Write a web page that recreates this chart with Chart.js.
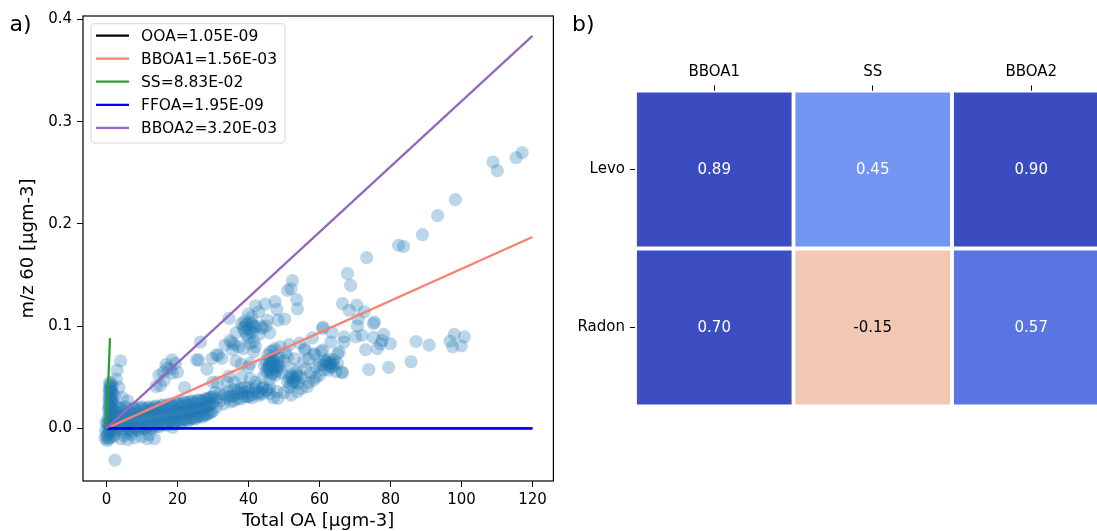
<!DOCTYPE html>
<html>
<head>
<meta charset="utf-8">
<script src="https://cdn.jsdelivr.net/npm/chart.js@4.4.0/dist/chart.umd.min.js"></script>
<style>
  html,body{margin:0;padding:0;background:#fff;overflow:hidden}
  #wrap{position:relative;width:1097px;height:531px;overflow:hidden}
  #scatterChart{position:absolute;left:0;top:0}
  #corrChart{position:absolute;left:560px;top:0}
</style>
</head>
<body>
<div id="wrap">
  <canvas id="scatterChart" width="560" height="531"></canvas>
  <canvas id="corrChart" width="560" height="531"></canvas>
</div>
<script>
/* ---- panel a data ---- */
const xTicks = [0, 20, 40, 60, 80, 100, 120];
const yTicks = [0.0, 0.1, 0.2, 0.3, 0.4];

const fitNames  = ['OOA', 'BBOA1', 'SS', 'FFOA', 'BBOA2'];
const fitSlopes = ['1.05E-09', '1.56E-03', '8.83E-02', '1.95E-09', '3.20E-03'];
const fitEndX   = [120, 120, 1.0, 120, 120];

// [Total OA, m/z 60]
const scatterPts = [
  // column at the origin
  [0.8,0.044],[1.3,0.045],[1.0,0.040],[1.6,0.041],[0.7,0.036],[1.2,0.037],[1.7,0.035],[0.9,0.032],[1.4,0.031],
  [0.6,0.028],[1.1,0.027],[1.6,0.028],[0.8,0.023],[1.3,0.022],[1.8,0.024],[0.6,0.018],[1.1,0.017],[1.5,0.019],
  [0.9,0.013],[1.4,0.012],[0.5,0.010],[1.0,0.008],[1.7,0.009],[0.3,0.004],[0.8,0.003],[1.3,0.002],[2.0,0.004],
  [-0.3,-0.002],[0.2,-0.006],[0.7,-0.004],[1.5,-0.003],[-0.4,-0.010],[0.3,-0.012],[1.0,-0.009],[2.2,-0.006],
  [-0.1,0.006],[2.5,0.001],[2.3,0.032],[2.8,0.048],[3.0,0.057],[4.0,0.066],
  [1.2,0.042],[0.9,0.038],[1.5,0.036],[1.0,0.030],[1.3,0.026],[0.7,0.021],[1.2,0.020],[1.0,0.015],[1.6,0.014],
  [0.6,0.006],[1.2,0.005],[0.4,-0.002],[1.1,-0.001],[1.8,-0.001],[0.0,-0.008],[0.6,-0.010],[2.5,0.010],
  [2.2,0.016],[2.7,0.022],
  // low band
  [3,-0.002],[3,0.007],[3,0.016],[4,0.003],[4,0.012],[4,0.020],[5,-0.004],[5,0.005],[5,0.014],
  [6,0.000],[6,0.009],[6,0.019],[7,-0.003],[7,0.006],[7,0.015],[8,0.001],[8,0.011],[8,0.020],
  [9,-0.002],[9,0.007],[9,0.016],[10,0.002],[10,0.012],[10,0.021],[11,-0.001],[11,0.008],[11,0.017],
  [12,0.003],[12,0.013],[12,0.021],[13,0.000],[13,0.009],[13,0.018],[14,0.004],[14,0.014],[14,0.022],
  [15,0.002],[15,0.010],[15,0.019],[16,0.005],[16,0.015],[16,0.023],[17,0.003],[17,0.011],[17,0.020],
  [18,0.007],[18,0.016],[18,0.024],[19,0.004],[19,0.012],[19,0.021],[20,0.008],[20,0.017],[20,0.025],
  [21,0.006],[21,0.014],[21,0.022],[22,0.009],[22,0.018],[22,0.026],[23,0.007],[23,0.015],[23,0.023],
  [24,0.010],[24,0.019],[24,0.027],[25,0.009],[25,0.016],[25,0.024],[26,0.012],[26,0.020],[26,0.028],
  [27,0.011],[27,0.018],[27,0.026],[28,0.013],[28,0.021],[28,0.029],[29,0.015],[29,0.023],[29,0.030],
  [30,0.017],[30,0.025],[30,0.031],
  [3.5,0.002],[3.5,0.011],[3.5,0.019],[4.5,-0.001],[4.5,0.008],[4.5,0.017],[5.5,0.003],[5.5,0.012],[5.5,0.021],
  [6.5,-0.001],[6.5,0.007],[6.5,0.016],[7.5,0.002],[7.5,0.010],[7.5,0.019],[8.5,-0.001],[8.5,0.009],[8.5,0.018],
  [9.5,0.001],[9.5,0.010],[9.5,0.020],[10.5,0.000],[10.5,0.010],[10.5,0.019],[11.5,0.002],[11.5,0.011],[11.5,0.020],
  [12.5,0.001],[12.5,0.011],[12.5,0.019],[13.5,0.003],[13.5,0.012],[13.5,0.021],[14.5,0.002],[14.5,0.012],[14.5,0.020],
  [15.5,0.004],[15.5,0.013],[15.5,0.022],[16.5,0.004],[16.5,0.013],[16.5,0.021],[17.5,0.005],[17.5,0.014],[17.5,0.023],
  [18.5,0.006],[18.5,0.014],[18.5,0.022],[19.5,0.006],[19.5,0.015],[19.5,0.024],[20.5,0.007],[20.5,0.016],[20.5,0.024],
  [21.5,0.008],[21.5,0.016],[21.5,0.025],[22.5,0.008],[22.5,0.017],[22.5,0.025],[23.5,0.009],[23.5,0.017],[23.5,0.026],
  [24.5,0.010],[24.5,0.018],[24.5,0.026],[25.5,0.011],[25.5,0.019],[25.5,0.027],[26.5,0.012],[26.5,0.019],[26.5,0.027],
  [27.5,0.013],[27.5,0.020],[27.5,0.028],[28.5,0.014],[28.5,0.022],[28.5,0.029],[29.5,0.016],[29.5,0.024],[29.5,0.030],
  [31,0.021],[32,0.027],[33,0.024],[34,0.030],[35,0.026],[36,0.032],[37,0.029],[38,0.034],[39,0.031],
  [40,0.036],[41,0.033],[42,0.038],[43,0.035],[44,0.040],[45,0.037],[46,0.034],[47,0.030],
  [31,0.029],[33,0.033],[35,0.031],[37,0.035],[39,0.036],[41,0.030],[43,0.032],
  [32,0.034],[34,0.036],[36,0.038],[38,0.039],[40,0.040],[42,0.041],[30.5,0.035],[44,0.034],[46,0.040],
  [48,0.036],[36,0.027],[38,0.029],[40,0.031],
  // below the band
  [2,-0.008],[4,-0.010],[6,-0.011],[8,-0.009],[10,-0.008],[11.5,-0.010],[13.5,-0.010],[12,-0.006],
  [18.7,0.001],[2.4,-0.031],[5,-0.007],[7,-0.006],
  // above the band
  [3.5,0.040],[4.5,0.030],[6,0.027],[14,0.041],[14.8,0.052],[16.2,0.047],[17.1,0.059],[18.5,0.054],
  [19.4,0.0635],[20,0.055],[18,0.058],[16.8,0.0626],[18.5,0.067],[15.2,0.042],[16,0.055],[22,0.040],
  [25.4,0.067],[26.5,0.0845],[26,0.0668],[29.8,0.0685],[28.3,0.058],[30,0.045],[31.2,0.045],[34.5,0.051],
  [36,0.045],[38,0.050],[40.5,0.0487],[42,0.045],[39,0.040],[34,0.045],
  // upper middle cluster
  [34.5,0.1077],[36.5,0.0935],[38,0.1024],[39,0.100],[40,0.1117],[41,0.109],[42,0.120],[42.9,0.114],
  [44.7,0.1215],[45.3,0.106],[47.5,0.124],[48,0.1165],[48.3,0.106],[50.2,0.107],[51,0.135],[52,0.1365],
  [52.4,0.1445],[53.6,0.126],[53.8,0.117],[38.5,0.098],[40.5,0.096],[42,0.099],[44,0.098],[46,0.0935],
  [43.5,0.100],[40,0.0885],[41.5,0.085],[42,0.080],[41.5,0.075],[40.5,0.083],[37.3,0.080],[38.5,0.078],
  [36,0.082],[35.3,0.084],[33.4,0.0815],[34.8,0.0858],[35.5,0.077],[31.5,0.0715],[31,0.072],[32.5,0.0686],
  [38,0.0626],[40.5,0.0636],[40,0.060],[36.5,0.066],[39.5,0.091],[41,0.094],[43,0.092],[45,0.100],[39,0.095],
  [39.5,0.102],[40.5,0.104],[41.5,0.100],[40,0.098],[39,0.105],[41,0.102],
  // lower middle blobs
  [44,0.050],[45,0.056],[46,0.062],[47,0.058],[48,0.064],[46.5,0.068],[45.5,0.072],[47.5,0.052],[49,0.060],
  [44.5,0.062],[48.5,0.070],[50,0.066],[49.5,0.054],[46,0.048],[50.5,0.074],[47,0.076],[45,0.066],[47,0.066],
  [48,0.056],[46,0.056],[51,0.046],[52,0.052],[53,0.048],[52.5,0.058],[54,0.044],[51.5,0.040],[53.5,0.055],
  [55,0.050],[52,0.044],[54,0.052],
  [46,0.060],[47,0.063],[48,0.060],[45.5,0.060],[47.5,0.070],[46.5,0.053],[52.5,0.050],[53,0.045],[51.5,0.050],
  [62.5,0.062],[63.5,0.060],[61,0.062],
  [45.5,0.058],[46.5,0.064],[47.5,0.060],[48.5,0.062],[46,0.066],[47,0.054],[52.5,0.046],[53.5,0.050],
  [62,0.066],[63,0.064],
  [55.8,0.0765],[58.6,0.073],[60.9,0.0765],[62.8,0.0675],[65.1,0.073],[66.9,0.0845],[63.2,0.0845],[60.9,0.0977],
  [62,0.064],[63,0.060],[62.5,0.057],[64,0.062],[61.5,0.066],[64.7,0.0555],[66.3,0.0553],[60.5,0.075],
  [58.5,0.072],[56,0.078],[57,0.068],[58,0.0885],[60,0.052],[61.2,0.057],[58.4,0.0473],[56.6,0.041],
  [55,0.039],[57,0.045],[53.8,0.036],[52,0.0326],[48.3,0.0293],[45.4,0.0377],[42.6,0.0344],[39.8,0.031],
  [37,0.0377],[35.1,0.0326],[44,0.039],[49,0.080],[51.5,0.082],[54.5,0.0835],[46.2,0.075],[47.5,0.078],
  [55.5,0.065],[53,0.068],[51,0.070],[59,0.060],[60,0.0625],[64,0.067],[50,0.035],[56,0.058],[57.5,0.054],
  [59,0.050],[63.5,0.064],
  // right-hand scatter
  [82.3,0.179],[83.7,0.178],[73.3,0.167],[67.9,0.1515],[68.8,0.140],[66.5,0.122],[70.5,0.1205],[68.4,0.1156],
  [72.6,0.114],[70.9,0.107],[75.2,0.1026],[75.5,0.104],[70.7,0.100],[66.9,0.0895],[72,0.091],[70.2,0.0895],
  [75.2,0.089],[78.1,0.092],[77.7,0.086],[80,0.0828],[77.2,0.0828],[73,0.077],[76.3,0.078],[65.6,0.0748],
  [65.1,0.0635],[66.5,0.0544],[87.2,0.085],[90.9,0.0815],[73.9,0.0576],[79.5,0.0597],[85.8,0.0652],
  [96.8,0.0853],[98,0.092],[100.8,0.0896],[100,0.0808],[97.5,0.0798],[108.9,0.2606],[110.1,0.2522],
  [115.4,0.2649],[117.1,0.2698],[98.3,0.2238],[93.3,0.2082],[89,0.1896],[61,0.099],[63.5,0.094]
];

/* ---- panel b data ---- */
const corrCols  = ['BBOA1', 'SS', 'BBOA2'];
const corrRows  = ['Levo', 'Radon'];
const corrLevo  = [0.89, 0.45, 0.90];
const corrRadon = [0.70, -0.15, 0.57];

/* ---- styles ---- */
const FONT = "'DejaVu Sans', sans-serif";
Chart.defaults.font.family = FONT;
Chart.defaults.color = '#000';

const fitColors = ['#000000', '#fa8072', '#2ca02c', '#0000ff', '#9467bd'];
const fitOrder  = [5, 4, 3, 2, 1];   // later lines on top, like matplotlib
const cellColors = [['#3b4cc0', '#7396f5', '#3b4cc0'], ['#3c4ec2', '#f2c8b4', '#5875e1']];

/* ---- plugins ---- */
const panelLabel = {
  id: 'panelLabel',
  afterDraw(chart, args, opts){
    const ctx = chart.ctx;
    ctx.save();
    ctx.font = '22px ' + FONT;
    ctx.fillStyle = '#000';
    ctx.textBaseline = 'alphabetic';
    ctx.fillText(opts.text, opts.x, opts.y);
    ctx.restore();
  }
};

const frame = {
  id: 'frame',
  afterDatasetsDraw(chart){
    const {ctx, chartArea: a} = chart;
    ctx.save();
    ctx.strokeStyle = '#000';
    ctx.lineWidth = 1.2;
    ctx.strokeRect(a.left, a.top, a.right - a.left, a.bottom - a.top);
    ctx.restore();
  }
};

const fitLegend = {
  id: 'fitLegend',
  afterDraw(chart){
    const {ctx, chartArea: a} = chart;
    const items = chart.data.datasets.filter(d => d.fitLine);
    const x0 = a.left + 8, y0 = a.top + 7.7, w = 194, rowH = 23.1;
    const h = items.length * rowH + 3.8;
    ctx.save();
    ctx.beginPath();
    ctx.roundRect(x0, y0, w, h, 3);
    ctx.fillStyle = 'rgba(255,255,255,0.8)';
    ctx.fill();
    ctx.strokeStyle = '#d6d6d6';
    ctx.lineWidth = 1;
    ctx.stroke();
    ctx.font = '15.5px ' + FONT;
    ctx.textBaseline = 'middle';
    items.forEach((d, i) => {
      const y = y0 + 11.8 + i * rowH;
      ctx.strokeStyle = d.borderColor;
      ctx.lineWidth = 2.25;
      ctx.beginPath(); ctx.moveTo(x0 + 5, y); ctx.lineTo(x0 + 38, y); ctx.stroke();
      ctx.fillStyle = '#000';
      ctx.fillText(d.label, x0 + 50, y + 1);
    });
    ctx.restore();
  }
};

const cellText = {
  id: 'cellText',
  afterDatasetsDraw(chart){
    const ctx = chart.ctx;
    ctx.save();
    ctx.font = '15px ' + FONT;
    ctx.textAlign = 'center';
    ctx.textBaseline = 'middle';
    chart.data.datasets.forEach((ds, di) => {
      chart.getDatasetMeta(di).data.forEach((bar, i) => {
        const v = ds.values[i];
        const p = bar.getProps(['x', 'y', 'base'], true);
        ctx.fillStyle = v < 0.2 ? '#000' : '#fff';
        ctx.fillText(v.toFixed(2), p.x, (p.y + p.base) / 2 + 1);
      });
    });
    ctx.restore();
  }
};

/* ---- panel a ---- */
const axisTicks = { drawOnChartArea: false, tickLength: 6, color: '#000', lineWidth: 1 };

new Chart(document.getElementById('scatterChart'), {
  type: 'scatter',
  data: {
    datasets: [
      ...fitNames.map((n, i) => ({
        label: n + '=' + fitSlopes[i],
        fitLine: true,
        data: [{x: 0, y: 0}, {x: fitEndX[i], y: Number(fitSlopes[i]) * fitEndX[i]}],
        showLine: true,
        borderColor: fitColors[i],
        borderWidth: 2.25,
        pointRadius: 0,
        order: fitOrder[i]
      })),
      {
        label: 'points',
        data: scatterPts.map(p => ({x: p[0], y: p[1]})),
        pointRadius: 6.6,
        pointBackgroundColor: 'rgba(31,119,180,0.3)',
        pointBorderWidth: 0,
        pointBorderColor: 'rgba(0,0,0,0)',
        order: 10
      }
    ]
  },
  options: {
    animation: false, responsive: false, events: [],
    layout: {padding: {top: 16, right: 4, left: 0, bottom: 0}},
    plugins: {
      legend: {display: false}, tooltip: {enabled: false},
      panelLabel: {text: 'a)', x: 9.5, y: 30.5}
    },
    scales: {
      x: {
        type: 'linear', min: -6.6, max: 125.9,
        afterBuildTicks: s => { s.ticks = xTicks.map(v => ({value: v})); },
        ticks: {font: {size: 15}, padding: 4, callback: v => String(v)},
        grid: axisTicks, border: {display: false},
        title: {display: true, text: 'Total OA [μgm-3]', font: {size: 18, lineHeight: 1}, padding: {top: 0, bottom: 0.5}},
        afterFit: s => { s.height = 50; }
      },
      y: {
        type: 'linear', min: -0.0515, max: 0.4035,
        afterBuildTicks: s => { s.ticks = yTicks.map(v => ({value: v})); },
        ticks: {font: {size: 15}, padding: 5, callback: v => v.toFixed(1)},
        grid: axisTicks, border: {display: false},
        title: {display: true, text: 'm/z 60 [μgm-3]', font: {size: 18, lineHeight: 1}, padding: {top: 19.5, bottom: 0}},
        afterFit: s => { s.width = 83; }
      }
    }
  },
  plugins: [frame, fitLegend, panelLabel]
});

/* ---- panel b ---- */
const corrVals = [corrLevo, corrRadon];

new Chart(document.getElementById('corrChart'), {
  type: 'bar',
  data: {
    labels: corrCols,
    datasets: corrRows.map((r, ri) => ({
      label: r,
      values: corrVals[ri],
      data: corrVals[ri].map(() => [ri, ri + 1]),
      backgroundColor: cellColors[ri],
      borderColor: '#fff',
      borderWidth: 2.25,
      borderSkipped: false,
      grouped: false,
      barPercentage: 1,
      categoryPercentage: 1
    }))
  },
  options: {
    animation: false, responsive: false, events: [],
    layout: {padding: {top: 0, right: 9.5, bottom: 124.5, left: 0}},
    plugins: {
      legend: {display: false}, tooltip: {enabled: false},
      panelLabel: {text: 'b)', x: 12, y: 31}
    },
    scales: {
      x: {
        position: 'top',
        grid: {offset: false, drawOnChartArea: false, tickLength: 5, color: '#000', lineWidth: 1},
        border: {display: false},
        ticks: {font: {size: 15}, padding: 4},
        afterFit: s => { s.height = 90.5; }
      },
      y: {
        type: 'linear', min: 0, max: 2, reverse: true,
        afterBuildTicks: s => { s.ticks = corrRows.map((_, i) => ({value: i + 0.5})); },
        ticks: {font: {size: 15}, padding: 5, callback: (v, i) => corrRows[i]},
        grid: {drawOnChartArea: false, tickLength: 5, color: '#000', lineWidth: 1},
        border: {display: false},
        afterFit: s => { s.width = 75; }
      }
    }
  },
  plugins: [cellText, panelLabel]
});
</script>
</body>
</html>
